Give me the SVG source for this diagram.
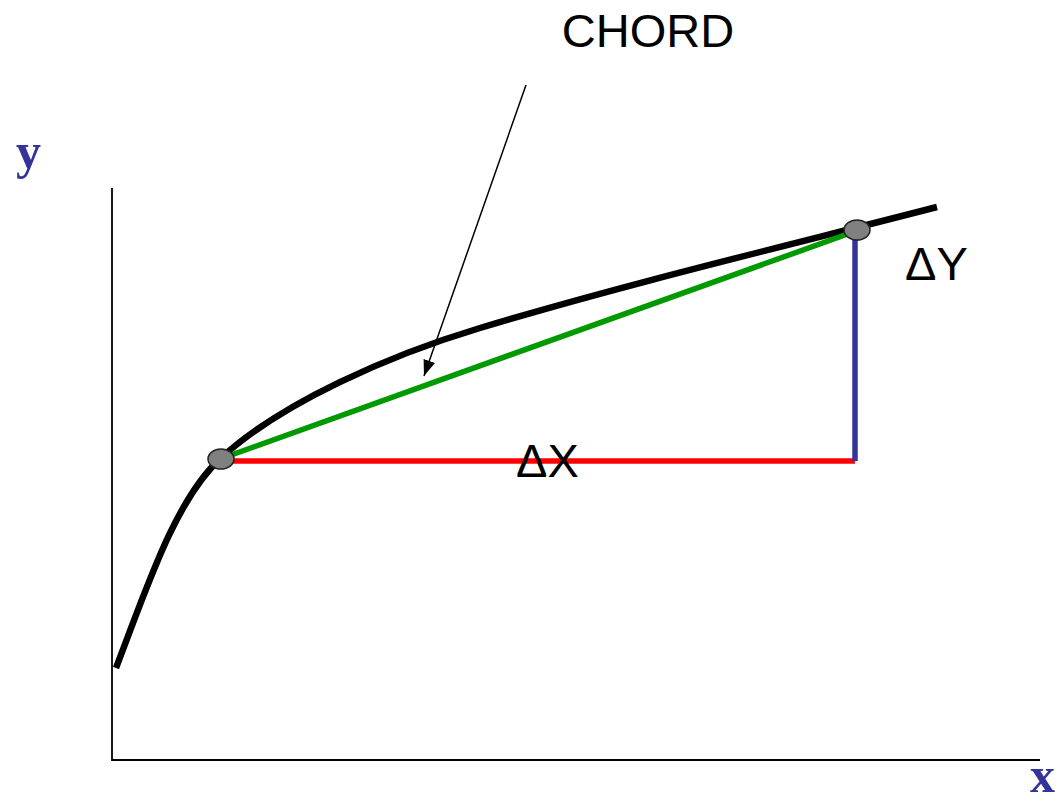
<svg xmlns="http://www.w3.org/2000/svg" width="1061" height="805" viewBox="0 0 1061 805">
<style>
.lbl{font-family:"Liberation Sans",Arial,sans-serif;font-size:47px;fill:#000}
.ax{font-family:"Liberation Serif","Times New Roman",serif;font-size:50px;font-weight:bold;fill:#333399}
.pt{fill:#808080;stroke:#222;stroke-width:1.5}
</style>
<defs>
<marker id="ah" markerWidth="16" markerHeight="12" refX="16" refY="6" orient="auto" markerUnits="userSpaceOnUse" viewBox="0 0 16 12">
<path d="M0,0 L16,6 L0,12 Z" fill="#000"/>
</marker>
</defs>
<rect width="1061" height="805" fill="#fff"/>
<g id="axes">
<path d="M112,188 V760 H1040" fill="none" stroke="#000" stroke-width="1.8"/>
</g>
<g id="curve">
<path d="M116,668 C146,590 175,500 220,459 C280,403 390,355 480,328 C630,283 790,245 937,207" fill="none" stroke="#000" stroke-width="6.5"/>
</g>
<g id="connectors">
<line x1="220" y1="461" x2="855" y2="461" stroke="#ff0000" stroke-width="5.5"/>
<line x1="855" y1="232" x2="855" y2="461" stroke="#333399" stroke-width="5.5"/>
<line x1="220" y1="459" x2="856" y2="231" stroke="#009900" stroke-width="5.5"/>
<line x1="526" y1="85" x2="424" y2="376" stroke="#000" stroke-width="1.5" marker-end="url(#ah)"/>
</g>
<g id="point1"><ellipse class="pt" cx="221" cy="459" rx="13" ry="10"/></g>
<g id="point2"><ellipse class="pt" cx="857" cy="230" rx="13" ry="10"/></g>
<g id="chord-label"><text class="lbl" x="648" y="47" text-anchor="middle">CHORD</text></g>
<g id="dy-label"><text class="lbl" x="905" y="280">ΔY</text></g>
<g id="dx-label"><text class="lbl" x="516" y="477">ΔX</text></g>
<g id="y-label"><text class="ax" x="16" y="168">y</text></g>
<g id="x-label"><text class="ax" x="1030" y="792">x</text></g>
</svg>
